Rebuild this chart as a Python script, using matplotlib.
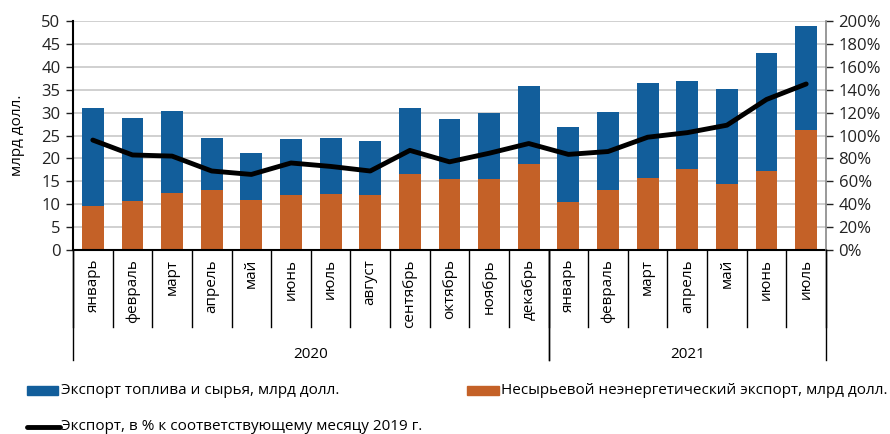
import matplotlib
matplotlib.use("Agg")
import matplotlib.pyplot as plt
from matplotlib.lines import Line2D
from matplotlib.patches import Rectangle
import numpy as np

plt.rcParams['font.family'] = ['Open Sans', 'DejaVu Sans']

months = ['январь', 'февраль', 'март', 'апрель', 'май', 'июнь', 'июль', 'август',
          'сентябрь', 'октябрь', 'ноябрь', 'декабрь',
          'январь', 'февраль', 'март', 'апрель', 'май', 'июнь', 'июль']
years = ['2020', '2021']
year_counts = [12, 7]

total = [30.9, 28.9, 30.3, 24.5, 21.1, 24.2, 24.4, 23.8, 31.1, 28.5, 30.0, 35.7,
         26.9, 30.2, 36.4, 36.8, 35.2, 43.0, 48.9]
non_raw = [9.6, 10.7, 12.4, 13.2, 10.9, 12.1, 12.3, 12.1, 16.7, 15.5, 15.4, 18.7,
           10.4, 13.2, 15.7, 17.6, 14.5, 17.3, 26.2]
fuel = [round(t - n, 1) for t, n in zip(total, non_raw)]
pct_2019 = [96, 83, 82, 69, 66, 76, 73, 69, 87, 77, 84.5, 93,
            83.5, 86, 98.5, 102.5, 109, 131.5, 145]

blue = '#125E9B'
orange = '#C46127'
fs = 11

W, H = 890, 434
fig = plt.figure(figsize=(W / 100, H / 100), dpi=100)
L, R, T, B = 73, 826, 21, 250
ax = fig.add_axes([L / W, 1 - B / H, (R - L) / W, (B - T) / H])
x = np.arange(len(months))
ax.bar(x, non_raw, width=0.55, color=orange, zorder=2)
ax.bar(x, fuel, width=0.55, bottom=non_raw, color=blue, zorder=2)
ax.set_xlim(-0.5, len(months) - 0.5)
ax.set_ylim(0, 50)
ax.set_yticks(range(0, 51, 5))
ax.grid(axis='y', color='#C8C8C8', linewidth=1.2, zorder=0)
ax.set_axisbelow(True)
ax.set_xticks([])
for s in ['top', 'right']:
    ax.spines[s].set_visible(False)
ax.spines['left'].set_linewidth(1.5)
ax.spines['bottom'].set_linewidth(1.5)
ax.tick_params(axis='y', labelsize=12, length=5, width=1, colors='#222222', pad=4)
ax.set_ylabel('млрд долл.', fontsize=fs, labelpad=12)

ax2 = ax.twinx()
ax2.plot(x, pct_2019, color='black', linewidth=3.5, solid_capstyle='round', zorder=5)
ax2.set_ylim(0, 200)
ax2.set_yticks(range(0, 201, 20))
ax2.set_yticklabels([f'{v}%' for v in range(0, 201, 20)])
ax2.tick_params(axis='y', labelsize=12, length=5, width=1, colors='#222222', pad=4)
ax2.spines['right'].set_color('#888888')
ax2.spines['right'].set_linewidth(1.2)
for s in ['top', 'left', 'bottom']:
    ax2.spines[s].set_visible(False)

# category axis: month separators, labels, years
def fx(px):
    return px / W

def fy(py):
    return 1 - py / H

step = (R - L) / len(months)
for i in range(len(months) + 1):
    xp = L + i * step
    fig.add_artist(Line2D([fx(xp), fx(xp)], [fy(B), fy(327)], color='black', linewidth=1))
for i, m in enumerate(months):
    xp = L + (i + 0.5) * step
    fig.text(fx(xp), fy(259), m, rotation=90, ha='center', va='top', fontsize=fs)

start = 0
for yr, n in zip(years, year_counts):
    x0 = L + start * step
    x1 = L + (start + n) * step
    for xp in (x0, x1):
        fig.add_artist(Line2D([fx(xp), fx(xp)], [fy(B), fy(360)], color='black', linewidth=1))
    fig.text(fx((x0 + x1) / 2), fy(355), yr, ha='center', va='center', fontsize=fs)
    start += n

# legend
fig.add_artist(Rectangle((fx(27), fy(395)), (58 - 27) / W, 9 / H, color=blue))
fig.text(fx(61), fy(391), 'Экспорт топлива и сырья, млрд долл.', ha='left', va='center', fontsize=fs)
fig.add_artist(Rectangle((fx(467), fy(395)), (499 - 467) / W, 9 / H, color=orange))
fig.text(fx(501), fy(391), 'Несырьевой неэнергетический экспорт, млрд долл.', ha='left', va='center', fontsize=fs)
fig.add_artist(Line2D([fx(27), fx(60)], [fy(427), fy(427)], color='black', linewidth=3.5, solid_capstyle='round'))
fig.text(fx(61), fy(426), 'Экспорт, в % к соответствующему месяцу 2019 г.', ha='left', va='center', fontsize=fs)

fig.savefig('out.png', dpi=100)
